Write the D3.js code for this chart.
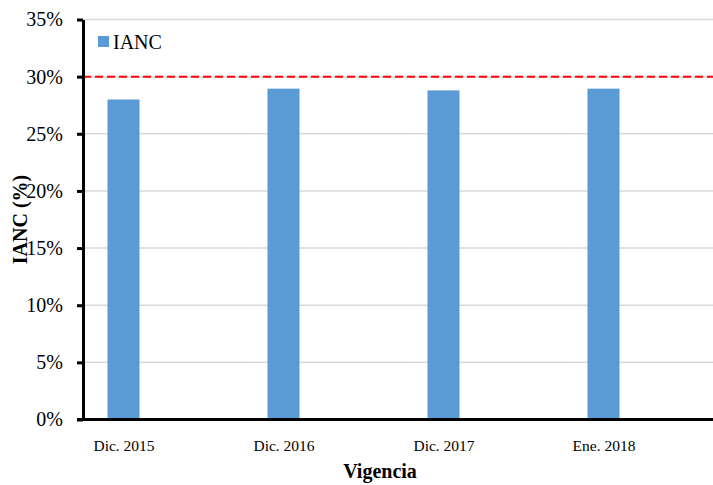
<!DOCTYPE html>
<html>
<head>
<meta charset="utf-8">
<script src="https://cdn.jsdelivr.net/npm/d3@7"></script>
<style>
  body { margin: 0; background: #fff; }
  svg { display: block; font-family: "Liberation Serif", "Times New Roman", serif; }
</style>
</head>
<body>
<div id="svg-container"></div>
<script>
// data
const categories = ["Dic. 2015", "Dic. 2016", "Dic. 2017", "Ene. 2018"];
const ianc = [28.0, 28.95, 28.8, 28.95];
const yTicks = [0, 5, 10, 15, 20, 25, 30, 35];
const limit = 30;

const width = 713, height = 485;
const margin = { top: 19.5, right: 0, bottom: 65.5, left: 83 };

const svg = d3.select("#svg-container").append("svg")
  .attr("width", width).attr("height", height);

// scales
const xScale = d3.scalePoint().domain(categories).range([123.5, 603.5]);
const yScale = d3.scaleLinear().domain([0, 35]).range([height - margin.bottom, margin.top]);
const barW = 32;

// gridlines
svg.append("g")
  .selectAll("line")
  .data(yTicks.filter(d => d > 0))
  .join("line")
  .attr("x1", margin.left).attr("x2", width)
  .attr("y1", d => yScale(d)).attr("y2", d => yScale(d))
  .attr("stroke", "#d9d9d9").attr("stroke-width", 1.5);

// bars
svg.append("g")
  .selectAll("rect")
  .data(ianc)
  .join("rect")
  .attr("x", (d, i) => xScale(categories[i]) - barW / 2)
  .attr("y", d => yScale(d))
  .attr("width", barW)
  .attr("height", d => yScale(0) - yScale(d))
  .attr("fill", "#5b9bd5");

// limit line
svg.append("line")
  .attr("x1", margin.left).attr("x2", width)
  .attr("y1", yScale(limit)).attr("y2", yScale(limit))
  .attr("stroke", "#ff0000").attr("stroke-width", 2)
  .attr("stroke-dasharray", "8,4");

// y axis
const yAxis = d3.axisLeft(yScale)
  .tickValues(yTicks)
  .tickFormat(d => d + "%")
  .tickSize(6)
  .tickPadding(14)
  .tickSizeOuter(0);

const gy = svg.append("g")
  .attr("transform", `translate(${margin.left},0)`)
  .call(yAxis);
gy.select(".domain").attr("stroke", "#000").attr("stroke-width", 3);
gy.selectAll(".tick line").attr("stroke", "#000").attr("stroke-width", 3);
gy.selectAll(".tick text")
  .attr("font-size", 20)
  .attr("fill", "#000")
  .style("font-family", "Liberation Serif");

// x axis
const xAxis = d3.axisBottom(xScale).tickSize(0).tickPadding(20);
const gx = svg.append("g")
  .attr("transform", `translate(0,${yScale(0)})`)
  .call(xAxis);
gx.select(".domain").attr("d", `M77,0H${width}`).attr("stroke", "#000").attr("stroke-width", 3);
gx.selectAll(".tick text")
  .attr("font-size", 15.5)
  .attr("fill", "#000")
  .style("font-family", "Liberation Serif");

// axis titles
svg.append("text")
  .attr("x", 380).attr("y", 478)
  .attr("text-anchor", "middle")
  .attr("font-size", 20).attr("font-weight", "bold")
  .text("Vigencia");

svg.append("text")
  .attr("transform", `translate(27,${(yScale(0) + yScale(35)) / 2}) rotate(-90)`)
  .attr("text-anchor", "middle")
  .attr("font-size", 20).attr("font-weight", "bold")
  .text("IANC (%)");

// legend
const legend = svg.append("g").attr("transform", "translate(98,36)");
legend.append("rect").attr("width", 11).attr("height", 11).attr("fill", "#5b9bd5");
legend.append("text").attr("x", 15).attr("y", 13)
  .attr("font-size", 20).text("IANC");
</script>
</body>
</html>
